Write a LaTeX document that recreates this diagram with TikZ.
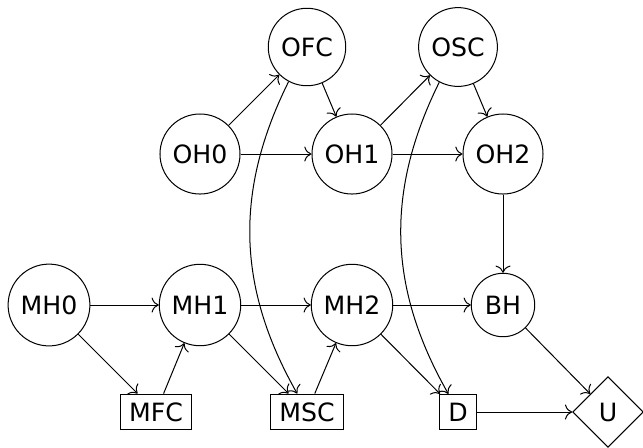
\documentclass[tikz,border=0pt]{standalone}
\usepackage{fontspec}
\setmainfont{DejaVu Sans}
\usetikzlibrary{shapes.geometric,arrows.meta}
\tikzset{
  chance/.style={circle,draw},
  decision/.style={rectangle,draw},
  utility/.style={diamond,draw,aspect=1,inner sep=3.33pt},
  link/.style={-{To[scale=1.15]}},
}
\begin{document}
\begin{tikzpicture}[x=0.397pt,y=-0.397pt]
\useasboundingbox (0,0) rectangle (643,447);
% observation layer
\node[chance] (OFC) at (307,47) {OFC};
\node[chance] (OSC) at (458,47) {OSC};
\node[chance] (OH0) at (200,154) {OH0};
\node[chance] (OH1) at (352,154) {OH1};
\node[chance] (OH2) at (503,154) {OH2};
% hidden layer
\node[chance] (MH0) at (49,305) {MH0};
\node[chance] (MH1) at (200,305) {MH1};
\node[chance] (MH2) at (352,305) {MH2};
\node[chance] (BH)  at (503,305) {BH};
% decisions and utility
\node[decision] (MFC) at (156,412) {MFC};
\node[decision] (MSC) at (307,412) {MSC};
\node[decision] (D)   at (458,412) {D};
\node[utility]  (U)   at (608,412) {U};
% edges
\draw[link] (OH0) -- (OFC);
\draw[link] (OFC) -- (OH1);
\draw[link] (OH0) -- (OH1);
\draw[link] (OH1) -- (OSC);
\draw[link] (OSC) -- (OH2);
\draw[link] (OH1) -- (OH2);
\draw[link] (OH2) -- (BH);
\draw[link] (MH0) -- (MH1);
\draw[link] (MH1) -- (MH2);
\draw[link] (MH2) -- (BH);
\draw[link] (MH0) -- (MFC);
\draw[link] (MFC) -- (MH1);
\draw[link] (MH1) -- (MSC);
\draw[link] (MSC) -- (MH2);
\draw[link] (MH2) -- (D);
\draw[link] (BH) -- (U);
\draw[link] (D) -- (U);
\draw[link] (OFC) to[bend right=28] (MSC);
\draw[link] (OSC) to[bend right=28] (D);
\end{tikzpicture}
\end{document}
